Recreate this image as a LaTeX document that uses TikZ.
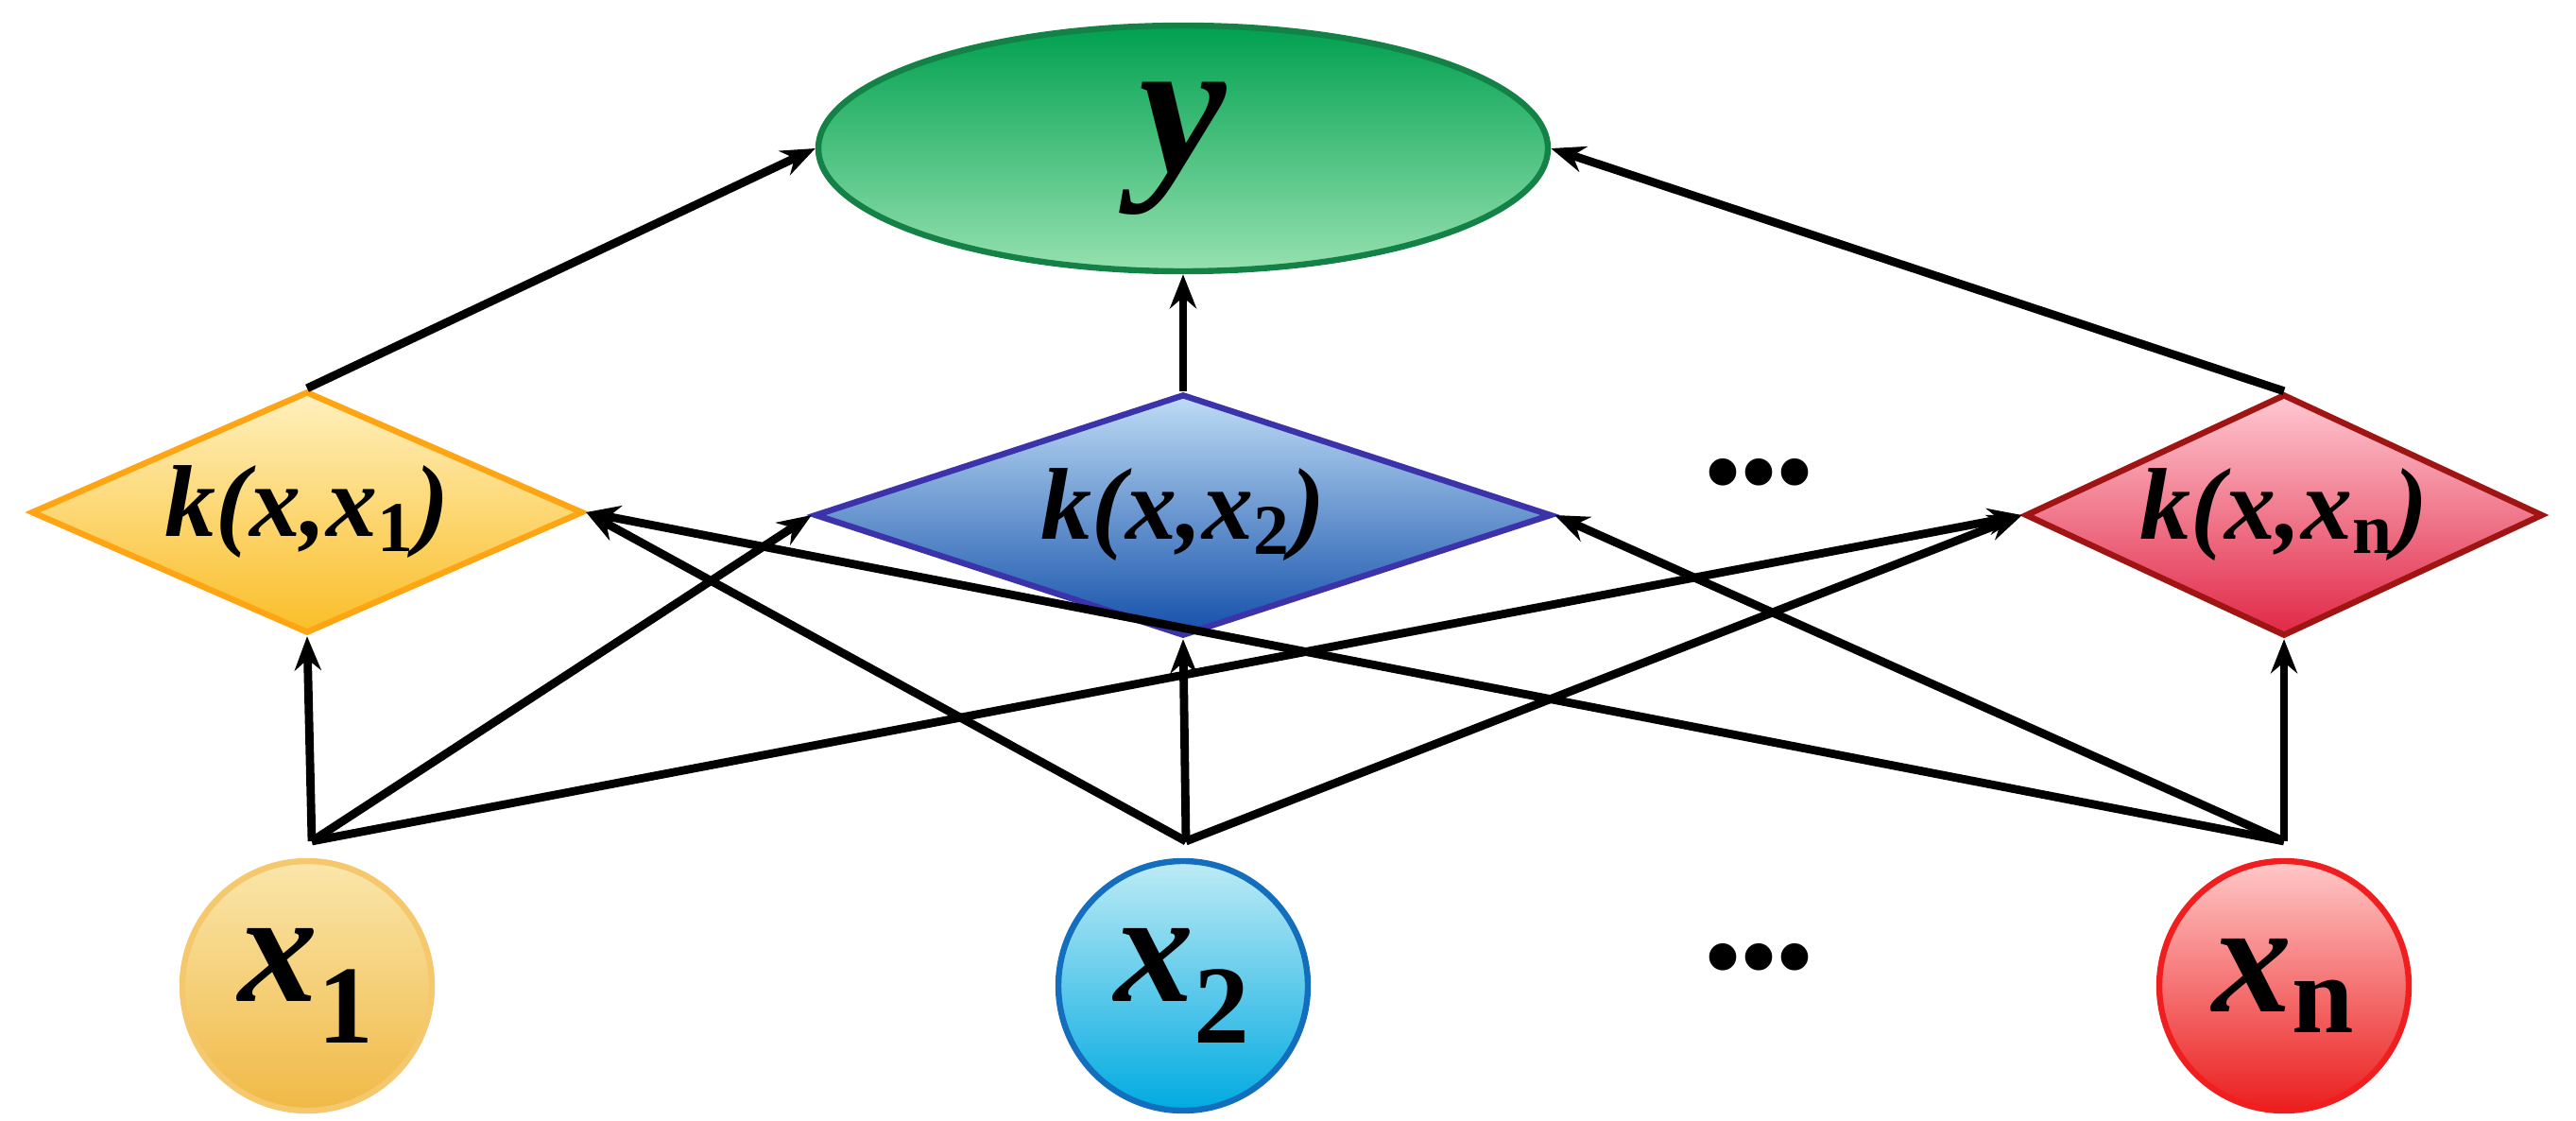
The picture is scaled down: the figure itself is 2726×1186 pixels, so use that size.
\documentclass[tikz,border=0pt]{standalone}
\usepackage{fontspec}
\setmainfont{Liberation Serif}
\usetikzlibrary{shapes.geometric,arrows.meta}
\begin{document}
\begin{tikzpicture}[x=0.25pt,y=-0.25pt,
  dia/.style={diamond,line width=1.6pt,inner sep=0pt,font=\bfseries\itshape\fontsize{27}{27}\selectfont},
  circ/.style={circle,minimum size=66pt,line width=1.6pt,inner sep=0pt,font=\bfseries\itshape\fontsize{42}{42}\selectfont},
  arr/.style={line width=2.2pt,-{Stealth[length=9pt,width=7pt]}},
  dots/.style={font=\fontsize{30}{30}\selectfont}]
\useasboundingbox (0,0) rectangle (2726,1186);
\node[ellipse,minimum width=193pt,minimum height=65pt,line width=1.6pt,draw={rgb,255:red,20;green,130;blue,70},top color={rgb,255:red,0;green,160;blue,80},bottom color={rgb,255:red,150;green,225;blue,175},font=\bfseries\itshape\fontsize{52}{52}\selectfont] (y) at (1252,157) {y};
\node[dia,aspect=2.3,minimum width=146pt,minimum height=64pt,draw={rgb,255:red,255;green,165;blue,20},top color={rgb,255:red,255;green,240;blue,190},bottom color={rgb,255:red,250;green,190;blue,40}] (k1) at (325,542) {k(x,x\textsubscript{\upshape 1})};
\node[dia,aspect=3.0,minimum width=195pt,minimum height=64pt,draw={rgb,255:red,60;green,50;blue,170},top color={rgb,255:red,190;green,220;blue,245},bottom color={rgb,255:red,20;green,80;blue,170}] (k2) at (1252,545) {k(x,x\textsubscript{\upshape 2})};
\node[dia,aspect=2.15,minimum width=137pt,minimum height=64pt,draw={rgb,255:red,160;green,20;blue,20},top color={rgb,255:red,255;green,200;blue,210},bottom color={rgb,255:red,225;green,40;blue,70}] (kn) at (2417,545) {k(x,x\textsubscript{\upshape n})};
\node[circ,draw={rgb,255:red,245;green,200;blue,110},top color={rgb,255:red,250;green,230;blue,170},bottom color={rgb,255:red,240;green,185;blue,70}] (x1) at (325,1043) {x\textsubscript{\upshape 1}};
\node[circ,draw={rgb,255:red,20;green,110;blue,190},top color={rgb,255:red,190;green,235;blue,245},bottom color={rgb,255:red,0;green,170;blue,225}] (x2) at (1252,1043) {x\textsubscript{\upshape 2}};
\node[circ,draw={rgb,255:red,240;green,30;blue,30},top color={rgb,255:red,255;green,200;blue,200},bottom color={rgb,255:red,235;green,30;blue,30}] (xn) at (2417,1043) {x\textsubscript{\upshape n}};
\node[dots] (d1) at (1861,512) {\textbullet\kern-1pt\textbullet\kern-1pt\textbullet};
\node[dots] (d2) at (1861,1025) {\textbullet\kern-1pt\textbullet\kern-1pt\textbullet};
\coordinate (p1) at (330,890);
\coordinate (p2) at (1255,890);
\coordinate (pn) at (2417,890);
\draw[arr] (k1.north) -- (y.west);
\draw[arr] (k2.north) -- (y.south);
\draw[arr] (kn.north) -- (y.east);
\draw[arr] (p1) -- (k1.south);
\draw[arr] (p1) -- (k2.west);
\draw[arr] (p1) -- (kn.west);
\draw[arr] (p2) -- (k1.east);
\draw[arr] (p2) -- (k2.south);
\draw[arr] (p2) -- (kn.west);
\draw[arr] (pn) -- (k1.east);
\draw[arr] (pn) -- (k2.east);
\draw[arr] (pn) -- (kn.south);
\end{tikzpicture}
\end{document}
